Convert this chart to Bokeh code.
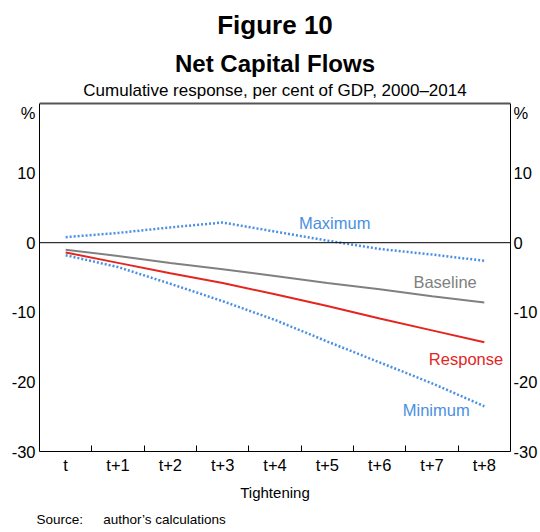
import numpy as np
from bokeh.plotting import figure
from bokeh.models import (Range1d, FixedTicker, LinearAxis, Span, Label, Title)
from bokeh.embed import file_html
from bokeh.resources import INLINE

# ---- data ----
categories = ["t", "t+1", "t+2", "t+3", "t+4", "t+5", "t+6", "t+7", "t+8"]
baseline = [-1.0, -1.9, -2.9, -3.8, -4.8, -5.8, -6.7, -7.7, -8.6]
response = [-1.4, -2.9, -4.4, -5.8, -7.4, -9.1, -10.9, -12.6, -14.3]
maximum = [0.8, 1.4, 2.2, 2.9, 1.6, 0.3, -0.9, -1.7, -2.6]
minimum = [-1.8, -3.5, -5.9, -8.4, -11.1, -14.2, -17.2, -20.2, -23.5]
y_ticks = [-30, -20, -10, 0, 10]
y_min, y_max = -30, 20
y_unit_label = "%"

FONT = "Liberation Sans"
BLUE = "#4a90e2"
RED = "#e3261f"
GREY = "#808080"

xs = np.arange(len(categories)) + 0.5

# frame spans from the canvas top (title area inside frame) down to the x axis
FRAME_TOP_PX = 103
PLOT_PX = 348
top_val = y_max + FRAME_TOP_PX * (y_max - y_min) / PLOT_PX

p = figure(width=540, height=532, output_backend="svg", toolbar_location=None,
           x_range=Range1d(0, len(categories)), y_range=Range1d(y_min, top_val),
           min_border_left=39, min_border_right=29, min_border_top=0,
           min_border_bottom=81, x_axis_type=None, y_axis_type=None)
p.outline_line_color = None
p.background_fill_color = "white"
p.border_fill_color = "white"

# y axes (left and right)
ytick_pos = y_ticks + [18.6]
overrides = {t: str(t) for t in y_ticks}
overrides[18.6] = y_unit_label
for side, standoff in (("left", 4), ("right", 3)):
    ax = LinearAxis(ticker=FixedTicker(ticks=ytick_pos, minor_ticks=[]), bounds=(y_min, y_max))
    ax.major_label_overrides = overrides
    ax.major_tick_line_color = None
    ax.major_tick_out = 0
    ax.major_tick_in = 0
    ax.minor_tick_line_color = None
    ax.minor_tick_out = 0
    ax.minor_tick_in = 0
    ax.axis_line_color = "black"
    ax.major_label_text_font = FONT
    ax.major_label_text_font_size = "16.5px"
    ax.major_label_text_color = "black"
    ax.major_label_standoff = standoff
    p.add_layout(ax, side)

# x axis
xax = LinearAxis(ticker=FixedTicker(ticks=list(xs), minor_ticks=list(range(1, len(categories)))))
xax.major_label_overrides = {float(x): c for x, c in zip(xs, categories)}
xax.major_tick_line_color = None
xax.major_tick_out = 0
xax.major_tick_in = 0
xax.minor_tick_in = 6
xax.minor_tick_out = 0
xax.minor_tick_line_color = "black"
xax.axis_line_color = "black"
xax.major_label_text_font = FONT
xax.major_label_text_font_size = "16.5px"
xax.major_label_text_color = "black"
xax.major_label_standoff = 4
xax.axis_label = "Tightening"
xax.axis_label_text_font = FONT
xax.axis_label_text_font_size = "15px"
xax.axis_label_text_font_style = "normal"
xax.axis_label_text_color = "black"
xax.axis_label_standoff = 7
p.add_layout(xax, "below")

# source line below the axis
src = Title(text="Source:\u2003\u2002author\u2019s calculations", align="left",
            text_font=FONT, text_font_size="13.5px", text_font_style="normal",
            text_color="black", standoff=12, offset=-3)
p.add_layout(src, "below")

# grid and frame top
p.xgrid.visible = False
p.ygrid.ticker = FixedTicker(ticks=[-20, -10, 10])
p.ygrid.grid_line_color = "#bfbfbf"
p.ygrid.grid_line_width = 1
p.add_layout(Span(location=0, dimension="width", line_color="black", line_width=1))
p.add_layout(Span(location=y_max, dimension="width", line_color="#555555", line_width=2))

# series
p.line(xs, baseline, line_color=GREY, line_width=2)
p.line(xs, response, line_color=RED, line_width=2)
p.line(xs, maximum, line_color=BLUE, line_width=2.5, line_dash="2 2")
p.line(xs, minimum, line_color=BLUE, line_width=2.5, line_dash="2 2")

def lab(x, y, text, color, size="16.5px", style="normal", align="center", baseline="middle"):
    p.add_layout(Label(x=x, y=y, text=text, text_color=color, text_font=FONT,
                       text_font_size=size, text_font_style=style,
                       text_align=align, text_baseline=baseline))

lab(5.64, 2.8, "Maximum", BLUE)
lab(7.75, -5.7, "Baseline", GREY)
lab(8.15, -16.7, "Response", RED)
lab(7.58, -24.1, "Minimum", BLUE)

# titles (inside the extended frame, above the chart area)
lab(4.5, 31.3, "Figure 10", "black", size="26px", style="bold", baseline="alphabetic")
lab(4.5, 25.8, "Net Capital Flows", "black", size="24px", style="bold", baseline="alphabetic")
lab(4.5, 21.8, "Cumulative response, per cent of GDP, 2000\u20132014", "black", size="17px", baseline="alphabetic")

open("out.html", "w").write(file_html(p, INLINE))
